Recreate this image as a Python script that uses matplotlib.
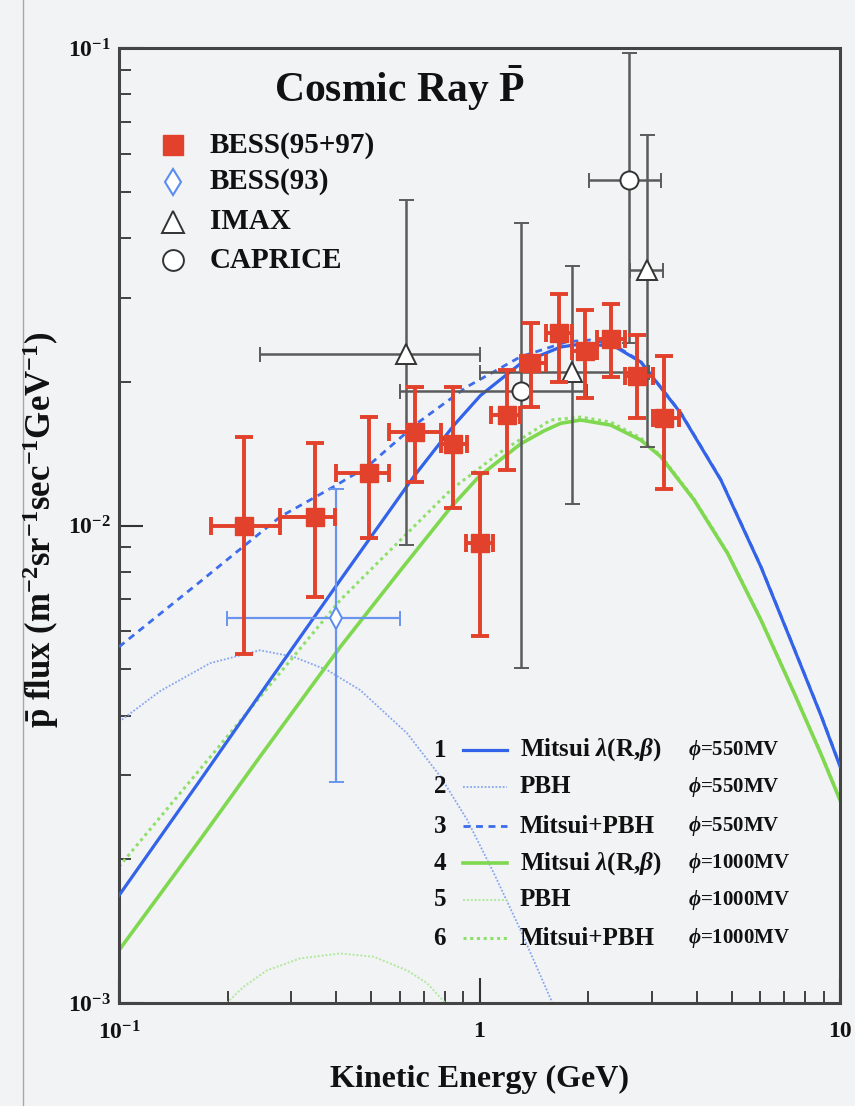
import math
import matplotlib
matplotlib.use("Agg")
import matplotlib.pyplot as plt
from matplotlib.lines import Line2D
from matplotlib.ticker import FixedLocator, FuncFormatter, LogLocator, NullFormatter

plt.rcParams['font.family'] = ['Liberation Serif', 'DejaVu Serif']
plt.rcParams['font.weight'] = 'bold'
plt.rcParams['mathtext.fontset'] = 'custom'
plt.rcParams['mathtext.rm'] = 'Liberation Serif:bold'
plt.rcParams['mathtext.bf'] = 'Liberation Serif:bold'
plt.rcParams['mathtext.it'] = 'Liberation Serif:bold:italic'

# BESS 95+97 antiproton flux
bess_e = [0.222, 0.349, 0.494, 0.663, 0.845, 1.00, 1.19, 1.39, 1.66, 1.96, 2.31, 2.74, 3.25]
bess_elo = [0.180, 0.280, 0.401, 0.561, 0.782, 0.920, 1.073, 1.30, 1.525, 1.81, 2.12, 2.54, 3.02]
bess_ehi = [0.280, 0.398, 0.561, 0.782, 0.924, 1.09, 1.294, 1.525, 1.809, 2.12, 2.54, 3.02, 3.58]
bess_flux = [0.0100, 0.0104, 0.0129, 0.0157, 0.0148, 0.0092, 0.0170, 0.0219, 0.0253, 0.0232, 0.0246, 0.0206, 0.0168]
bess_lo = [0.00538, 0.00707, 0.0094, 0.01235, 0.0109, 0.00587, 0.0131, 0.0177, 0.0200, 0.0185, 0.0205, 0.0168, 0.0119]
bess_hi = [0.01535, 0.01486, 0.01685, 0.01947, 0.01947, 0.01286, 0.0212, 0.0266, 0.0305, 0.0283, 0.0291, 0.0251, 0.0227]

# BESS 93
b93_e = [0.399]
b93_elo = [0.199]
b93_ehi = [0.603]
b93_flux = [0.0064]
b93_lo = [0.00291]
b93_hi = [0.0119]

# IMAX
imax_e = [0.626, 1.80, 2.91]
imax_elo = [0.246, 1.00, 2.61]
imax_ehi = [1.00, 2.95, 3.22]
imax_flux = [0.0229, 0.0210, 0.0343]
imax_lo = [0.0091, 0.0111, 0.0146]
imax_hi = [0.0480, 0.0350, 0.0657]

# CAPRICE
cap_e = [1.30, 2.60]
cap_elo = [0.603, 2.01]
cap_ehi = [1.99, 3.18]
cap_flux = [0.0191, 0.0529]
cap_lo = [0.00503, 0.0241]
cap_hi = [0.0430, 0.0977]

# model curves
mitsui550_e = [0.100, 0.168, 0.246, 0.411, 0.591, 0.657, 0.848, 1.006, 1.30, 1.679, 1.909, 2.361, 2.801, 3.617,
               4.672, 6.034, 7.467, 8.855, 10.0]
mitsui550_f = [1.68e-3, 2.93e-3, 4.43e-3, 7.69e-3, 0.01131, 0.01266, 0.01620, 0.01872, 0.02184, 0.02365, 0.02399,
               0.02376, 0.02200, 0.01718, 0.01245, 8.19e-3, 5.51e-3, 4.00e-3, 3.13e-3]

pbh550_e = [0.100, 0.130, 0.179, 0.246, 0.305, 0.378, 0.467, 0.630, 0.779, 0.924, 1.096, 1.30, 1.575, 1.68]
pbh550_f = [3.88e-3, 4.50e-3, 5.15e-3, 5.48e-3, 5.31e-3, 4.98e-3, 4.52e-3, 3.67e-3, 2.98e-3, 2.42e-3, 1.87e-3,
            1.42e-3, 1.02e-3, 9.0e-4]

sum550_e = [0.100, 0.168, 0.221, 0.280, 0.394, 0.488, 0.671, 0.924, 1.30, 1.75, 2.03, 2.361, 2.801, 3.617, 4.672,
            6.034, 7.467, 8.855, 10.0]
sum550_f = [5.57e-3, 7.63e-3, 9.03e-3, 0.01043, 0.01206, 0.01328, 0.01637, 0.01953, 0.02257, 0.02426, 0.02446,
            0.0239, 0.02205, 0.01722, 0.01248, 8.21e-3, 5.52e-3, 4.01e-3, 3.14e-3]

mitsui1000_e = [0.100, 0.168, 0.246, 0.411, 0.603, 0.831, 1.0, 1.30, 1.506, 1.679, 1.909, 2.311, 2.801, 3.184,
                3.938, 4.877, 6.034, 7.467, 8.855, 10.0]
mitsui1000_f = [1.29e-3, 2.20e-3, 3.28e-3, 5.57e-3, 8.05e-3, 0.0109, 0.01270, 0.01482, 0.01577, 0.01637, 0.01663,
                0.01623, 0.01510, 0.01393, 0.01131, 8.74e-3, 6.34e-3, 4.45e-3, 3.32e-3, 2.66e-3]

pbh1000_e = [0.199, 0.221, 0.257, 0.318, 0.411, 0.509, 0.630, 0.716, 0.804]
pbh1000_f = [1.0e-3, 1.08e-3, 1.17e-3, 1.24e-3, 1.27e-3, 1.25e-3, 1.17e-3, 1.10e-3, 1.0e-3]

sum1000_e = [0.100, 0.203, 0.411, 0.603, 0.831, 1.144, 1.575, 1.909, 2.311, 2.801, 3.184, 3.938, 4.877, 6.034,
             7.467, 8.855, 10.0]
sum1000_f = [1.93e-3, 3.67e-3, 6.98e-3, 9.32e-3, 0.01186, 0.01425, 0.01663, 0.01687, 0.01647, 0.01525, 0.01400,
             0.01136, 8.77e-3, 6.36e-3, 4.46e-3, 3.33e-3, 2.67e-3]

BG = '#f2f3f5'
RED = '#e2412b'
BLUE = '#3263e8'
GREEN = '#7fd850'
GRAY = '#5a5a5a'
TXT = '#111111'


def asym(c, lo, hi):
    return [[v - a for v, a in zip(c, lo)], [b - v for v, b in zip(c, hi)]]


fig = plt.figure(figsize=(8.55, 11.06), dpi=100, facecolor=BG)
ax = fig.add_axes([0.1392, 0.0931, 0.8433, 0.8635], facecolor=BG)
fig.add_artist(Line2D([0.027, 0.027], [0, 1], transform=fig.transFigure, color='#a8a8a8', lw=1))

# curves
ax.plot(pbh550_e, pbh550_f, color='#86a6f0', lw=1.3, ls=(0, (1, 1)), zorder=2)
ax.plot(pbh1000_e, pbh1000_f, color='#b2e89c', lw=1.4, ls=(0, (1, 1)), zorder=2)
ax.plot(sum1000_e, sum1000_f, color='#8fe06a', lw=2.2, ls=(0, (1, 1.2)), zorder=2)
ax.plot(mitsui1000_e, mitsui1000_f, color=GREEN, lw=2.6, zorder=2)
ax.plot(sum550_e, sum550_f, color='#3d6cec', lw=2.0, ls=(0, (2.5, 2)), zorder=3)
ax.plot(mitsui550_e, mitsui550_f, color=BLUE, lw=2.3, zorder=3)

# data points
ax.errorbar(imax_e, imax_flux, xerr=asym(imax_e, imax_elo, imax_ehi), yerr=asym(imax_flux, imax_lo, imax_hi),
            fmt='^', ms=14, mfc='white', mec='#333333', mew=1.4, ecolor=GRAY, elinewidth=1.8, capsize=5.4,
            capthick=1.8, zorder=4)
ax.errorbar(cap_e, cap_flux, xerr=asym(cap_e, cap_elo, cap_ehi), yerr=asym(cap_flux, cap_lo, cap_hi),
            fmt='o', ms=13, mfc='white', mec='#333333', mew=1.4, ecolor=GRAY, elinewidth=1.8, capsize=5.4,
            capthick=1.8, zorder=4)
ax.errorbar(b93_e, b93_flux, xerr=asym(b93_e, b93_elo, b93_ehi), yerr=asym(b93_flux, b93_lo, b93_hi),
            fmt='d', ms=11, mfc='white', mec='#5b8cf0', mew=1.4, ecolor='#6a95ef', elinewidth=1.6, capsize=5.4,
            capthick=1.6, zorder=5)
ax.errorbar(bess_e, bess_flux, xerr=asym(bess_e, bess_elo, bess_ehi), yerr=asym(bess_flux, bess_lo, bess_hi),
            fmt='s', ms=13, mfc=RED, mec=RED, ecolor=RED, elinewidth=2.8, capsize=6.5, capthick=2.8, zorder=6)

ax.set_xscale('log')
ax.set_yscale('log')
ax.set_xlim(0.1, 10)
ax.set_ylim(1e-3, 1e-1)

for s in ax.spines.values():
    s.set_color('#444444')
    s.set_linewidth(2.2)


def xfmt(v, pos):
    if abs(v - 0.1) < 1e-9:
        return r'$10^{-1}$'
    if abs(v - 1) < 1e-9:
        return '1'
    return '10'


def yfmt(v, pos):
    return r'$10^{%d}$' % round(math.log10(v))


ax.xaxis.set_major_locator(FixedLocator([0.1, 1, 10]))
ax.xaxis.set_major_formatter(FuncFormatter(xfmt))
ax.yaxis.set_major_locator(FixedLocator([1e-3, 1e-2, 1e-1]))
ax.yaxis.set_major_formatter(FuncFormatter(yfmt))
ax.xaxis.set_minor_locator(LogLocator(base=10, subs=range(2, 10)))
ax.yaxis.set_minor_locator(LogLocator(base=10, subs=range(2, 10)))
ax.xaxis.set_minor_formatter(NullFormatter())
ax.yaxis.set_minor_formatter(NullFormatter())
ax.tick_params(axis='both', which='both', direction='in', right=False, top=False, colors='#333333',
               labelcolor=TXT, labelsize=17)
ax.tick_params(axis='x', which='major', length=18, width=1.5, pad=13)
ax.tick_params(axis='x', which='minor', length=9, width=1.3)
ax.tick_params(axis='y', which='major', length=17, width=1.5, pad=6)
ax.tick_params(axis='y', which='minor', length=8.5, width=1.3)

ax.text(0.389, 0.958, r'Cosmic Ray $\bar{\rm P}$', transform=ax.transAxes, ha='center', va='center',
        fontsize=30, color=TXT)

# data legend
leg1_y = [0.8984, 0.8600, 0.8181, 0.7780]
leg1_labels = ['BESS(95+97)', 'BESS(93)', 'IMAX', 'CAPRICE']
ax.plot([0.0745], [leg1_y[0]], 's', ms=15, color=RED, transform=ax.transAxes)
ax.plot([0.0745], [leg1_y[1]], 'd', ms=13, mfc='white', mec='#5b8cf0', mew=1.5, transform=ax.transAxes)
ax.plot([0.0745], [leg1_y[2]], '^', ms=16, mfc='white', mec='#333333', mew=1.4, transform=ax.transAxes)
ax.plot([0.0745], [leg1_y[3]], 'o', ms=15, mfc='white', mec='#333333', mew=1.4, transform=ax.transAxes)
for yy, lab in zip(leg1_y, leg1_labels):
    ax.text(0.126, yy, lab, transform=ax.transAxes, ha='left', va='center', fontsize=21, color=TXT)

# model legend
leg2_y = [0.2649, 0.2265, 0.1853, 0.1463, 0.1079, 0.0677]
leg2_labels = [r'Mitsui $\lambda$(R,$\beta$)', 'PBH', 'Mitsui+PBH',
               r'Mitsui $\lambda$(R,$\beta$)', 'PBH', 'Mitsui+PBH']
leg2_phi = [r'$\phi$=550MV'] * 3 + [r'$\phi$=1000MV'] * 3
leg2_style = [(BLUE, 2.3, '-'), ('#86a6f0', 1.3, (0, (1, 1))), ('#3d6cec', 2.0, (0, (2.5, 2))),
              (GREEN, 2.6, '-'), ('#b2e89c', 1.4, (0, (1, 1))), ('#8fe06a', 2.2, (0, (1, 1.2)))]
for i, yy in enumerate(leg2_y):
    c, w, st = leg2_style[i]
    ax.text(0.445, yy, str(i + 1), transform=ax.transAxes, ha='center', va='center', fontsize=18, color=TXT)
    ax.plot([0.4767, 0.5386], [yy, yy], color=c, lw=w, ls=st, transform=ax.transAxes)
    ax.text(0.5562, yy, leg2_labels[i], transform=ax.transAxes, ha='left', va='center', fontsize=18, color=TXT)
    ax.text(0.7896, yy, leg2_phi[i], transform=ax.transAxes, ha='left', va='center', fontsize=15, color=TXT)

fig.text(0.5614, 0.024, 'Kinetic Energy (GeV)', ha='center', va='center', fontsize=23, color=TXT)
fig.text(0.047, 0.5208, r'$\bar{\rm p}$ flux (m$^{-2}$sr$^{-1}$sec$^{-1}$GeV$^{-1}$)', rotation=90,
         ha='center', va='center', fontsize=25, color=TXT)

fig.savefig('out.png', dpi=100, facecolor=BG)
